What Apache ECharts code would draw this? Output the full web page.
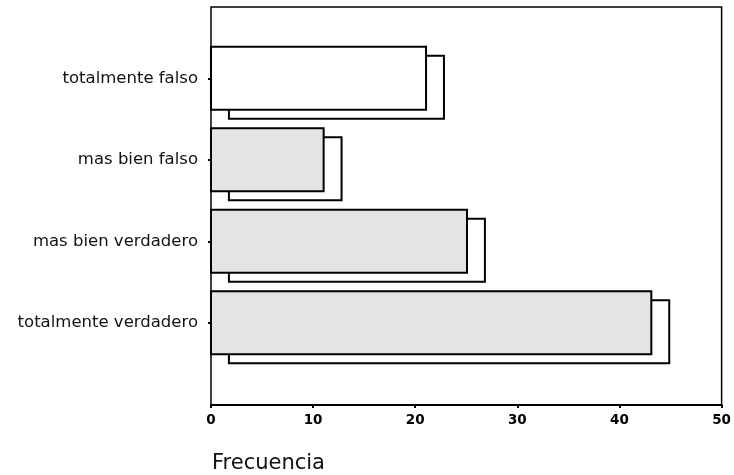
<!DOCTYPE html>
<html>
<head>
<meta charset="utf-8">
<script src="https://cdn.jsdelivr.net/npm/echarts@6/dist/echarts.min.js"></script>
<style>
html,body{margin:0;padding:0;background:#fff;}
#chart{width:734px;height:475px;}
</style>
</head>
<body>
<div id="chart"></div>
<script>
const categories = ['totalmente falso', 'mas bien falso', 'mas bien verdadero', 'totalmente verdadero'];
const frequencies = [21, 11, 25, 43];
const xTickValues = [0, 10, 20, 30, 40, 50];
const axisTitle = 'Frecuencia';

const frontFills = ['#ffffff', '#e4e4e4', '#e4e4e4', '#e4e4e4'];
const FONT = '"DejaVu Sans", sans-serif';

const chart = echarts.init(document.getElementById('chart'), null, {renderer: 'canvas'});

const barData = categories.map((c, i) => [frequencies[i], i]);

chart.setOption({
  animation: false,
  backgroundColor: '#ffffff',
  title: {
    text: axisTitle,
    left: 212, top: 453, padding: 0,
    textStyle: {fontFamily: FONT, fontSize: 21, fontWeight: 'normal', color: '#111'}
  },
  grid: [
    {left: 211, right: 11, top: 7, bottom: 70, show: true, borderColor: '#000', borderWidth: 1.5, backgroundColor: 'transparent'},
    {left: 211, right: 11, top: 37.5, height: 326}
  ],
  xAxis: [
    {
      gridIndex: 0, type: 'value', min: xTickValues[0], max: xTickValues[xTickValues.length - 1], interval: 10,
      axisLine: {show: true, lineStyle: {color: '#000', width: 2}},
      axisTick: {show: true, length: 3, lineStyle: {color: '#000', width: 2}},
      splitLine: {show: false},
      axisLabel: {margin: 8, fontFamily: FONT, fontSize: 13.5, fontWeight: 'bold', color: '#000'}
    },
    {gridIndex: 1, type: 'value', min: 0, max: 50, show: false}
  ],
  yAxis: [
    {gridIndex: 0, type: 'value', show: false},
    {
      gridIndex: 1, type: 'category', data: categories, inverse: true,
      axisLine: {show: false},
      axisTick: {show: true, alignWithLabel: true, length: 3, lineStyle: {color: '#000', width: 2}},
      axisLabel: {margin: 13, fontFamily: FONT, fontSize: 16.5, color: '#111'}
    }
  ],
  series: [{
    type: 'custom',
    xAxisIndex: 1, yAxisIndex: 1,
    encode: {x: 0, y: 1},
    data: barData,
    clip: false,
    renderItem: function (params, api) {
      const v = api.value(0);
      const cat = api.value(1);
      const p0 = api.coord([0, cat]);
      const p1 = api.coord([v, cat]);
      const band = api.size([0, 1])[1];
      const h = band * 0.775;
      const dx = api.size([1.75, 0])[0];
      const dy = 9;
      const w = p1[0] - p0[0];
      return {
        type: 'group',
        children: [
          {type: 'rect', shape: {x: p0[0] + dx, y: p0[1] - h / 2 + dy, width: w, height: h},
           style: {fill: '#ffffff', stroke: '#000', lineWidth: 2}},
          {type: 'rect', shape: {x: p0[0], y: p0[1] - h / 2, width: w, height: h},
           style: {fill: frontFills[params.dataIndex], stroke: '#000', lineWidth: 2}}
        ]
      };
    }
  }]
});
</script>
</body>
</html>
